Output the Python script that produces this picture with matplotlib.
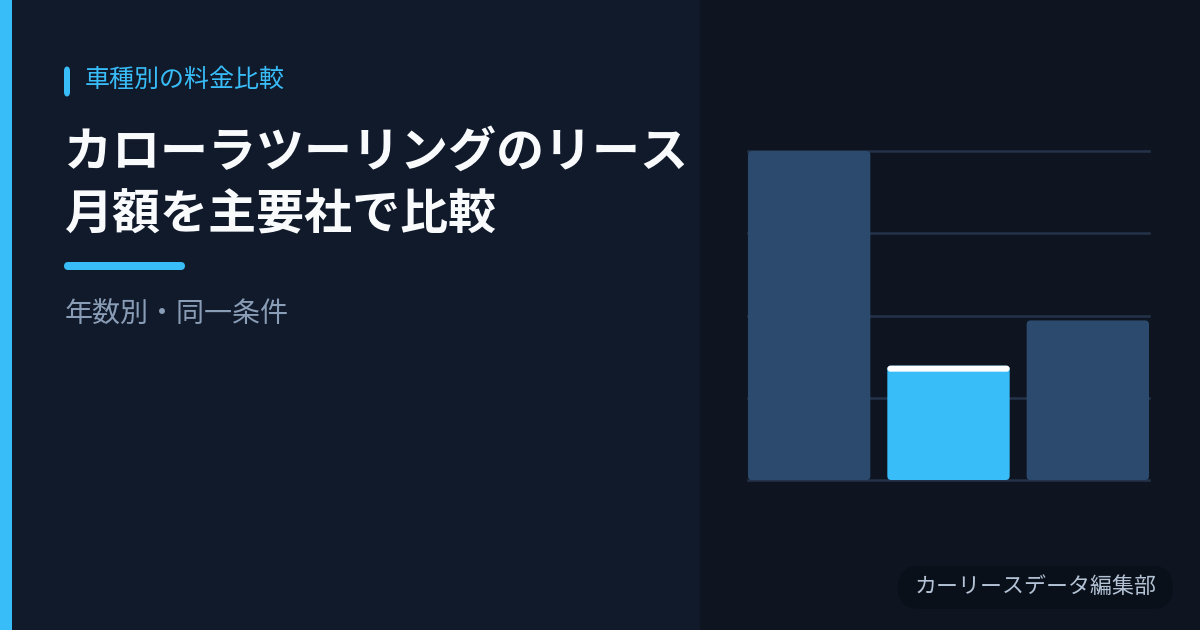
import matplotlib
matplotlib.use('Agg')
import matplotlib.pyplot as plt
from matplotlib.patches import Rectangle, FancyBboxPatch

plt.rcParams['font.family'] = ['Noto Sans CJK JP', 'DejaVu Sans']

# Data (monthly lease)
companies = ['A社', 'B社', 'C社']
monthly_fee = [40000, 13900, 19400]
highlight = [False, True, False]
y_max = 40000
grid_step = 10000

kicker = '車種別の料金比較'
title_lines = ['カローラツーリングのリース', '月額を主要社で比較']
subtitle = '年数別・同一条件'
badge = 'カーリースデータ編集部'

colors = {
    'bg_left': '#111a2b',
    'bg_right': '#0e1521',
    'accent': '#38bdf8',
    'bar': '#2c4a6e',
    'grid': '#243349',
    'title': '#f8fafc',
    'sub': '#8a9db6',
    'badge_bg': '#0a101a',
    'badge_text': '#b3c2d5',
}

W, H = 1200, 630
fig = plt.figure(figsize=(12, 6.3), dpi=100)
fig.patch.set_facecolor(colors['bg_left'])


def fx(px):
    return px / W


def fy(py):
    return 1 - py / H


# background panels
fig.patches.append(Rectangle((fx(700), 0), fx(500), 1, transform=fig.transFigure,
                             facecolor=colors['bg_right'], edgecolor='none', zorder=-2))
fig.patches.append(Rectangle((0, 0), fx(12), 1, transform=fig.transFigure,
                             facecolor=colors['accent'], edgecolor='none', zorder=-1))

# kicker marker + text
fig.patches.append(FancyBboxPatch((fx(64), fy(97)), fx(6), fy(66) - fy(97),
                                  boxstyle='round,pad=0,rounding_size=0.004',
                                  transform=fig.transFigure, facecolor=colors['accent'],
                                  edgecolor='none', mutation_aspect=W / H, zorder=2))
fig.text(fx(85), fy(80), kicker, fontsize=18, color=colors['accent'], va='center', ha='left')

# title
for i, line in enumerate(title_lines):
    fig.text(fx(64), fy(152 + i * 63), line, fontsize=34.6, fontweight='bold',
             color=colors['title'], va='center', ha='left')

# underline
fig.patches.append(FancyBboxPatch((fx(64), fy(270)), fx(121), fy(262) - fy(270),
                                  boxstyle='round,pad=0,rounding_size=0.0035',
                                  transform=fig.transFigure, facecolor=colors['accent'],
                                  edgecolor='none', mutation_aspect=W / H, zorder=2))

fig.text(fx(65), fy(315), subtitle, fontsize=20.2, color=colors['sub'], va='center', ha='left')

# badge
fig.patches.append(FancyBboxPatch((fx(898), fy(609)), fx(275), fy(566) - fy(609),
                                  boxstyle='round,pad=0,rounding_size=0.0175',
                                  transform=fig.transFigure, facecolor=colors['badge_bg'],
                                  edgecolor='none', mutation_aspect=W / H, zorder=2))
fig.text(fx(1035.5), fy(587), badge, fontsize=15.8, color=colors['badge_text'],
         va='center', ha='center', zorder=3)

# chart
ax = fig.add_axes([fx(748), fy(480), fx(401), fy(151) - fy(480)])
ax.set_zorder(5)
ax.set_facecolor('none')
ax.set_xlim(-0.439, 2.439)
ax.set_ylim(0, y_max)
for s in ax.spines.values():
    s.set_visible(False)
ax.set_xticks([])
ax.set_yticks([])

for g in range(0, y_max + 1, grid_step):
    ax.axhline(g, color=colors['grid'], linewidth=1.8, zorder=1, clip_on=False)

bar_w = 0.878
# data units per pixel, for rounded corners and the cap
ux = 2.878 / 401
uy = y_max / 329
r_px = 4
bars = ax.bar(range(len(companies)), monthly_fee, width=bar_w, color='none')
for b, hl in zip(bars, highlight):
    x0, y0, w, h = b.get_x(), b.get_y(), b.get_width(), b.get_height()
    face = colors['accent'] if hl else colors['bar']
    ax.add_patch(FancyBboxPatch((x0, y0), w, h,
                                boxstyle=f'round,pad=0,rounding_size={r_px * ux}',
                                mutation_aspect=uy / ux, facecolor=face,
                                edgecolor='none', zorder=2, clip_on=False))
    if hl:
        cap = 6 * uy
        ax.add_patch(FancyBboxPatch((x0, y0 + h - cap), w, cap,
                                    boxstyle=f'round,pad=0,rounding_size={3 * ux}',
                                    mutation_aspect=uy / ux, facecolor='white',
                                    edgecolor='none', zorder=3, clip_on=False))

fig.savefig('out.png', dpi=100, facecolor=fig.get_facecolor())
